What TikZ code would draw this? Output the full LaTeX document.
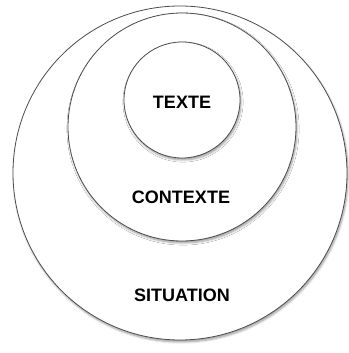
\documentclass[tikz,border=0pt]{standalone}
\usepackage{fontspec}
\setmainfont{Liberation Sans}
\usepackage{tikz}
\usetikzlibrary{shadows.blur}

\tikzset{
  ring/.style={circle, draw=black!70, line width=0.8pt, fill=white, inner sep=0pt, outer sep=0pt,
    blur shadow={shadow xshift=1pt, shadow yshift=-2pt, shadow blur steps=6, shadow opacity=40}},
  word/.style={font=\bfseries\fontsize{18}{21}\selectfont, text=black}
}

\begin{document}
\begin{tikzpicture}[x=1pt,y=1pt]
        \useasboundingbox (0,0) rectangle (348,353);
        % Draw nested circles
        \node[ring, minimum size=334pt] (situation) at (180,180) {};
        \node[ring, minimum size=228pt] (contexte) at (182,226) {};
        \node[ring, minimum size=116pt] (texte) at (182,253) {};

        % Labels
        \node[word] (texteLabel) at (182,251) {TEXTE};
        \node[word] (contexteLabel) at (181,156) {CONTEXTE};
        \node[word] (situationLabel) at (182,58) {SITUATION};
    \end{tikzpicture}
\end{document}
